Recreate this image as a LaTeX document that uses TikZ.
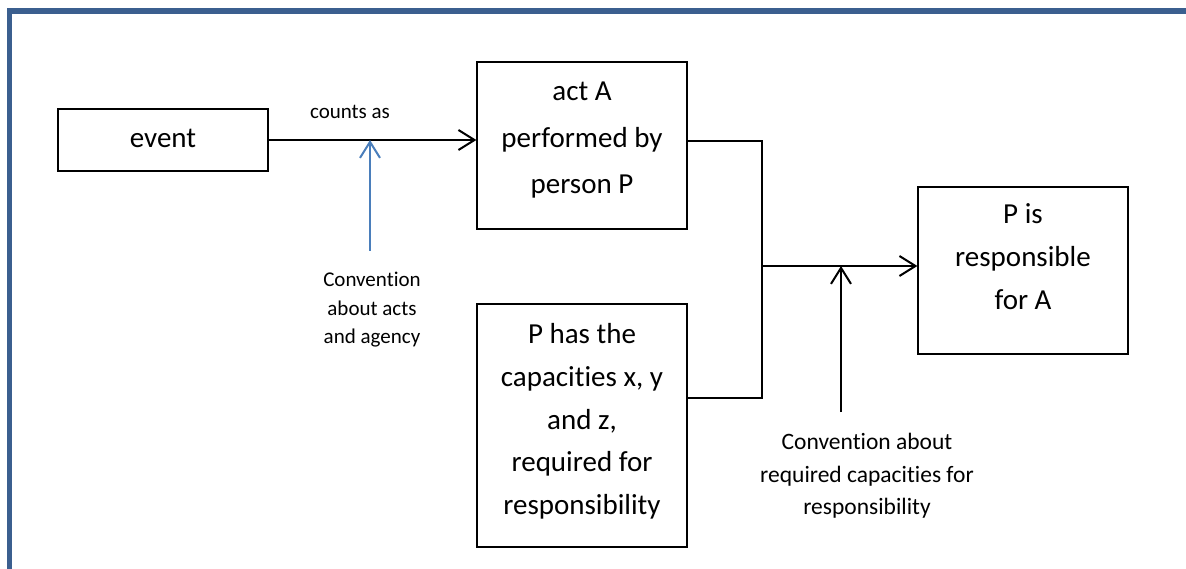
\documentclass[tikz,border=0pt]{standalone}
\usepackage{fontspec}
\setmainfont[Ligatures={NoCommon}]{Carlito}
\usetikzlibrary{arrows.meta}
\definecolor{framecol}{HTML}{3B5F8F}
\definecolor{convblue}{HTML}{4A7EBB}

\begin{document}
\begin{tikzpicture}[x=1pt, y=-1pt,
		box/.style={draw, shape=rectangle, line width=1.3pt, minimum width=210pt, inner sep=0},
		conn/.style={line width=2pt},
		tip/.style={-{Straight Barb[length=16pt, width=20pt]}},
		big/.style={font=\fontsize{29}{35}\selectfont, anchor=base, inner sep=0},
		small/.style={font=\fontsize{21}{28}\selectfont, anchor=base, inner sep=0},
		mid/.style={font=\fontsize{23.5}{32.5}\selectfont, anchor=base, inner sep=0}]
	\useasboundingbox (0,0) rectangle (1186,569);
	\draw[framecol, line width=5.5pt] (9.5,569) -- (9.5,11) -- (1186,11);

	\node[box, minimum height=62pt] (event) at (163,140) {};
	\node[box, minimum height=167pt] (actA) at (582,145.5) {};
	\node[box, minimum height=243pt] (capac) at (582,425.5) {};
	\node[box, minimum height=167pt] (resp) at (1023,270.5) {};

	\node[big] (event-1) at (163,148) {event};
	\foreach \y/\t [count=\i] in {101/act A, 148/performed by, 194/person P}
		{
			\node[big] (actA-\i) at (582,\y) {\t};
		}
	\foreach \y/\t [count=\i] in {344/P has the, 386.5/{capacities x, y}, 429/{and z,}, 471.5/required for, 514/responsibility}
		{
			\node[big] (capac-\i) at (582,\y) {\t};
		}
	\foreach \y/\t [count=\i] in {224/P is, 267/responsible, 309/for A}
		{
			\node[big] (resp-\i) at (1023,\y) {\t};
		}

	\node[small] (counts) at (350,119) {counts as};
	\foreach \y/\t [count=\i] in {287/Convention, 316/about acts, 343/and agency}
		{
			\node[small] (convA-\i) at (372,\y) {\t};
		}
	\foreach \y/\t [count=\i] in {449/Convention about, 482/required capacities for, 514.5/responsibility}
		{
			\node[mid] (convR-\i) at (867,\y) {\t};
		}

	\coordinate (join) at (762,266);
	\coordinate (convA-foot) at (370,251);
	\coordinate (convR-foot) at (841,412);

	\draw[conn, tip] (event.east) -- (event.east -| actA.west);
	\draw[conn, tip, convblue] (convA-foot) -- (convA-foot |- event.east);
	\draw[conn] ([yshift=4.5pt]actA.east) -| (join) |- ([yshift=27.5pt]capac.east);
	\draw[conn, tip] (join) -- (join -| resp.west);
	\draw[conn, tip] (convR-foot) -- (convR-foot |- join);
\end{tikzpicture}
\end{document}
